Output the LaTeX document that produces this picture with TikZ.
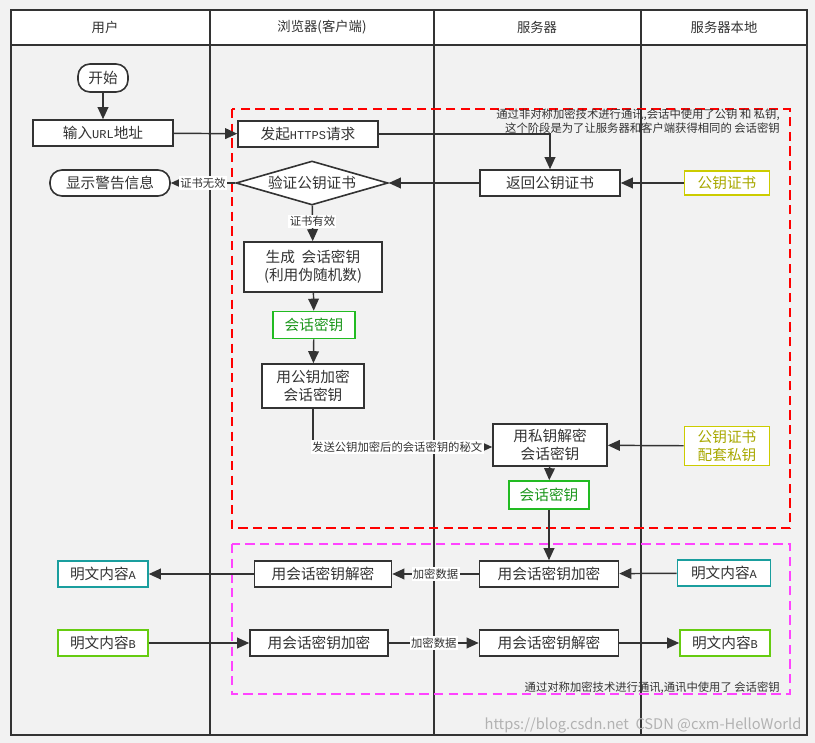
\documentclass[tikz,border=0pt]{standalone}
\usepackage{fontspec}
\setmainfont{Noto Sans CJK SC}
\newfontfamily\monof{Liberation Mono}
\usetikzlibrary{arrows.meta,shapes.geometric}
\definecolor{bg}{HTML}{F2F2F2}
\definecolor{ln}{HTML}{333333}
\definecolor{yel}{HTML}{CCCC00}
\definecolor{yelt}{HTML}{A8A800}
\definecolor{grn}{HTML}{22BB22}
\definecolor{teal}{HTML}{1A9E9E}
\definecolor{lgrn}{HTML}{66CC11}
\definecolor{mag}{HTML}{FF44FF}
\tikzset{
 box/.style={draw=ln,line width=1.2pt,fill=white,minimum height=26*0.75pt,inner sep=1pt,font=\fontsize{11}{13.5}\selectfont,text=ln,align=center},
 arr/.style={-{Triangle[length=9pt,width=8pt]},draw=ln,line width=1.1pt},
 lab/.style={fill=white,inner sep=1pt,font=\fontsize{8.5}{9}\selectfont,text=ln},
 note/.style={font=\fontsize{8.5}{10.5}\selectfont,text=ln,align=right,anchor=north east,inner sep=0pt},
}
\begin{document}
\begin{tikzpicture}[x=0.75pt,y=-0.75pt]
\useasboundingbox (0,0) rectangle (815,743);
\fill[bg] (0,0) rectangle (815,743);
\draw[ln,line width=1.2pt] (11,10) rectangle (807,735);
\draw[ln,line width=1.2pt,fill=white] (11,10) rectangle (807,45);
\foreach \x in {210,434,641} \draw[ln,line width=1.2pt] (\x,10) -- (\x,735);
\foreach \x/\t in {105/用户,322/浏览器(客户端),537/服务器,724/服务器本地}
  \node[font=\fontsize{10}{11}\selectfont,text=ln] (h\x) at (\x,27) {\t};
% regions
\draw[red,line width=1.2pt,dash pattern=on 7pt off 4pt] (232,109) rectangle (790,528);
\draw[mag,line width=1.2pt,dash pattern=on 7pt off 4pt] (232,544) rectangle (790,694);
\node[note] (n1) at (780,109) {通过非对称加密技术进行通讯,会话中使用了公钥 和 私钥,\\这个阶段是为了让服务器和客户端获得相同的 会话密钥};
\node[note,anchor=south east] (n2) at (780,694) {通过对称加密技术进行通讯,通讯中使用了 会话密钥};
% nodes
\node[box,rounded corners=9pt,minimum width=50*0.75pt,minimum height=28*0.75pt] (start) at (103,78) {开始};
\node[box,minimum width=140*0.75pt] (url) at (103,133) {输入{\monof\small URL}地址};
\node[box,minimum width=140*0.75pt] (https) at (308,134) {发起{\monof\small HTTPS}请求};
\node[box,rounded corners=9pt,minimum width=120*0.75pt] (warn) at (110,183) {显示警告信息};
\node[box,diamond,aspect=3.4,minimum width=152*0.75pt,minimum height=44*0.75pt,inner sep=0pt] (verify) at (312,183) {验证公钥证书};
\node[box,minimum width=140*0.75pt] (ret) at (550,183) {返回公钥证书};
\node[box,draw=yel,text=yelt,minimum width=85*0.75pt,minimum height=24*0.75pt] (cert) at (727,183) {公钥证书};
\node[box,minimum width=138*0.75pt,minimum height=50*0.75pt] (gen) at (313,267) {生成\ \ 会话密钥\\(利用伪随机数)};
\node[box,draw=grn,text=grn!80!black,minimum width=82*0.75pt,minimum height=27*0.75pt] (sk1) at (314,325) {会话密钥};
\node[box,minimum width=102*0.75pt,minimum height=44*0.75pt] (enc) at (313,386) {用公钥加密\\会话密钥};
\node[box,minimum width=114*0.75pt,minimum height=42*0.75pt] (dec) at (550,445) {用私钥解密\\会话密钥};
\node[box,draw=yel,text=yelt,minimum width=85*0.75pt,minimum height=39*0.75pt] (priv) at (727,446) {公钥证书\\配套私钥};
\node[box,draw=grn,text=grn!80!black,minimum width=80*0.75pt,minimum height=28*0.75pt] (sk2) at (549,495) {会话密钥};
\node[box,minimum width=139*0.75pt] (senc) at (549,574) {用会话密钥加密};
\node[box,minimum width=137*0.75pt] (bdec) at (323,574) {用会话密钥解密};
\node[box,draw=teal,minimum width=90*0.75pt] (ptAl) at (103,574) {明文内容{\monof\small A}};
\node[box,draw=teal,minimum width=93*0.75pt] (ptAr) at (724,573) {明文内容{\monof\small A}};
\node[box,draw=lgrn,minimum width=90*0.75pt] (ptBl) at (103,643) {明文内容{\monof\small B}};
\node[box,minimum width=138*0.75pt] (benc) at (319,643) {用会话密钥加密};
\node[box,minimum width=139*0.75pt] (sdec) at (549,643) {用会话密钥解密};
\node[box,draw=lgrn,minimum width=90*0.75pt] (ptBr) at (725,643) {明文内容{\monof\small B}};
\coordinate (c1) at (313,447);
% connectors
\draw[arr] (start) -- (url);
\draw[arr] (url) -- (https);
\draw[arr] (https.east) -| (ret.north);
\draw[arr] (cert) -- (ret);
\draw[arr] (ret) -- (verify);
\draw[arr] (verify) -- node[lab]{证书无效} (warn);
\draw[arr] (verify) -- node[lab,pos=0.45]{证书有效} (gen);
\draw[arr] (gen) -- (sk1);
\draw[arr] (sk1) -- (enc);
\draw[arr] (enc.south) -- (c1) -- node[lab,pos=0.47]{发送公钥加密后的会话密钥的秘文} (c1 -| dec.west);
\draw[arr] (priv) -- (dec);
\draw[arr] (dec) -- (sk2);
\draw[arr] (sk2) -- (senc);
\draw[arr] (ptAr) -- (senc);
\draw[arr] (senc) -- node[lab]{加密数据} (bdec);
\draw[arr] (bdec) -- (ptAl);
\draw[arr] (ptBl) -- (benc);
\draw[arr] (benc) -- node[lab]{加密数据} (sdec);
\draw[arr] (sdec) -- (ptBr);
\node[font=\fontsize{11}{12}\selectfont,text=gray!60,anchor=south east,inner sep=1pt] (wm) at (803,735) {https://blog.csdn.net\ \ CSDN @cxm-HelloWorld};
\end{tikzpicture}
\end{document}
